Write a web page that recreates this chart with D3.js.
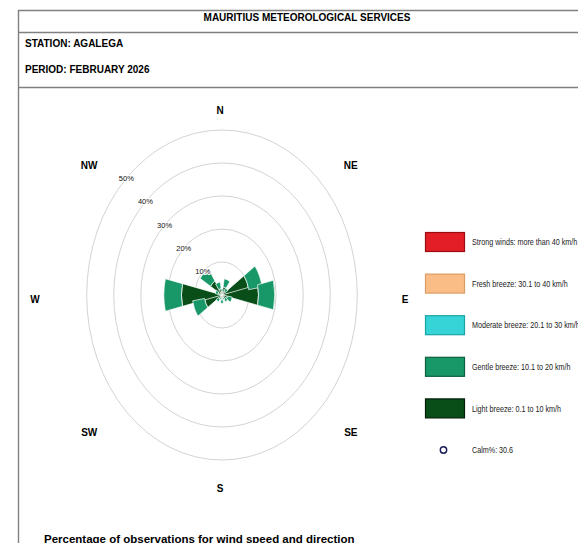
<!DOCTYPE html>
<html>
<head>
<meta charset="utf-8">
<script src="https://cdn.jsdelivr.net/npm/d3@7"></script>
<style>
  body { margin: 0; background: #fff; }
  svg { display: block; font-family: "Liberation Sans", Arial, sans-serif; }
</style>
</head>
<body>
<script>
// wind rose data, % of observations per direction and speed class
var directions = ["N","NNE","NE","ENE","E","ESE","SE","SSE","S","SSW","SW","WSW","W","WNW","NW","NNW"];
var lightBreeze    = [1.0, 2.5, 1.5, 10.0, 13.5, 2.0, 1.5, 1.0, 1.5, 1.0, 1.5, 6.5, 15.0, 1.5, 5.0, 2.0];
var gentleBreeze   = [0.8, 2.5, 1.0, 5.0, 6.0, 1.8, 1.0, 0.5, 1.0, 0.5, 1.0, 4.5, 6.5, 1.0, 4.5, 2.0];
var moderateBreeze = [0, 0, 0, 0, 0, 0, 0, 0, 0, 0, 0, 0, 0, 0, 0, 0];
var freshBreeze    = [0, 0, 0, 0, 0, 0, 0, 0, 0, 0, 0, 0, 0, 0, 0, 0];
var strongWinds    = [0, 0, 0, 0, 0, 0, 0, 0, 0, 0, 0, 0, 0, 0, 0, 0];
var ringTicks = [10, 20, 30, 40, 50];
var compass = ["N","NE","E","SE","S","SW","W","NW"];
var legendLabels = [
  "Strong winds: more than 40 km/h",
  "Fresh breeze: 30.1 to 40 km/h",
  "Moderate breeze: 20.1 to 30 km/h",
  "Gentle breeze: 10.1 to 20 km/h",
  "Light breeze: 0.1 to 10 km/h"
];
var calmPercent = 30.6;

var width = 578, height = 543;
var cx = 222, cy = 295, squash = 0.82;

var classes = [
  {key: "light",    fill: "#094d18", stroke: "#021f08"},
  {key: "gentle",   fill: "#189868", stroke: "#0c5e40"},
  {key: "moderate", fill: "#36d4d6", stroke: "#1aa3a6"},
  {key: "fresh",    fill: "#fbbd86", stroke: "#dc9c66"},
  {key: "strong",   fill: "#e41e26", stroke: "#9a0d12"}
];

var rows = directions.map(function(d, i) {
  return {dir: d, light: lightBreeze[i], gentle: gentleBreeze[i],
    moderate: moderateBreeze[i], fresh: freshBreeze[i], strong: strongWinds[i]};
});

var svg = d3.select("body").append("svg")
  .attr("width", width)
  .attr("height", height);

// frame
var frame = svg.append("g")
  .attr("stroke", "#808080")
  .attr("stroke-width", 1.4);
frame.append("line").attr("x1", 18).attr("x2", width).attr("y1", 10.5).attr("y2", 10.5);
frame.append("line").attr("x1", 18).attr("x2", width).attr("y1", 32.5).attr("y2", 32.5);
frame.append("line").attr("x1", 18).attr("x2", width).attr("y1", 87.5).attr("y2", 87.5);
frame.append("line").attr("x1", 18.5).attr("x2", 18.5).attr("y1", 10).attr("y2", height);

svg.append("text")
  .attr("x", 307).attr("y", 21)
  .attr("text-anchor", "middle")
  .attr("font-size", 10).attr("font-weight", "bold")
  .text("MAURITIUS METEOROLOGICAL SERVICES");
svg.append("text")
  .attr("x", 25).attr("y", 47)
  .attr("font-size", 10).attr("font-weight", "bold")
  .text("STATION: AGALEGA");
svg.append("text")
  .attr("x", 25).attr("y", 73)
  .attr("font-size", 10).attr("font-weight", "bold")
  .text("PERIOD: FEBRUARY 2026");

// scales
var r = d3.scaleLinear().domain([0, 50]).range([0, 165]);
var angle = d3.scaleBand()
  .domain(directions)
  .range([-Math.PI / 16, 2 * Math.PI - Math.PI / 16])
  .padding(0);
var spread = 2 * Math.PI / 180; // petals drawn a little wider than their sector

var rose = svg.append("g")
  .attr("transform", "translate(" + cx + "," + cy + ") scale(" + squash + ",1)");

rose.selectAll("circle.ring")
  .data(ringTicks)
  .enter()
  .append("circle")
  .attr("class", "ring")
  .attr("r", function(d) { return r(d); })
  .attr("fill", "none")
  .attr("stroke", "#c8c8c8")
  .attr("stroke-width", 0.8)
  .attr("vector-effect", "non-scaling-stroke");

var stack = d3.stack().keys(classes.map(function(c) { return c.key; }));
var series = stack(rows);

var arc = d3.arc()
  .innerRadius(function(d) { return r(d[0]); })
  .outerRadius(function(d) { return r(d[1]); })
  .startAngle(function(d) { return angle(d.data.dir) - spread; })
  .endAngle(function(d) { return angle(d.data.dir) + angle.bandwidth() + spread; });

rose.selectAll("g.layer")
  .data(series)
  .enter()
  .append("g")
  .attr("class", "layer")
  .attr("fill", function(s, i) { return classes[i].fill; })
  .selectAll("path")
  .data(function(s) { return s.filter(function(d) { return d[1] > d[0]; }); })
  .enter()
  .append("path")
  .attr("d", arc)
  .attr("stroke", "#ffffff")
  .attr("stroke-width", 0.7)
  .attr("vector-effect", "non-scaling-stroke");

// ring labels along the NW line
svg.selectAll("text.ringlabel")
  .data(ringTicks)
  .enter()
  .append("text")
  .attr("class", "ringlabel")
  .attr("x", function(d) { return cx - squash * r(d) * Math.SQRT1_2; })
  .attr("y", function(d) { return cy - r(d) * Math.SQRT1_2; })
  .attr("dy", "0.35em")
  .attr("text-anchor", "middle")
  .attr("font-size", 7.5)
  .attr("fill", "#111")
  .attr("stroke", "#fff")
  .attr("stroke-width", 2)
  .attr("paint-order", "stroke")
  .text(function(d) { return d + "%"; });

// compass labels
var labelCx = 220, labelCy = 299, labelRx = 185, labelRy = 189;
svg.selectAll("text.compass")
  .data(compass)
  .enter()
  .append("text")
  .attr("class", "compass")
  .attr("x", function(d, i) { return labelCx + labelRx * Math.sin(i * Math.PI / 4); })
  .attr("y", function(d, i) { return labelCy - labelRy * Math.cos(i * Math.PI / 4); })
  .attr("dy", "0.35em")
  .attr("text-anchor", "middle")
  .attr("font-size", 10)
  .attr("font-weight", "bold")
  .text(function(d) { return d; });

// legend
var legendClasses = classes.slice().reverse();
var legendY = d3.scalePoint().domain(d3.range(6)).range([242, 450]);
var legend = svg.append("g");

legend.selectAll("rect")
  .data(legendClasses)
  .enter()
  .append("rect")
  .attr("x", 425.5)
  .attr("y", function(d, i) { return legendY(i) - 9.5; })
  .attr("width", 39)
  .attr("height", 19)
  .attr("fill", function(d) { return d.fill; })
  .attr("stroke", function(d) { return d.stroke; })
  .attr("stroke-width", 1.2);

var textK = 0.8;
var legendText = legend.append("g")
  .attr("transform", "scale(" + textK + ",1)");
legendText.selectAll("text")
  .data(legendLabels.concat(["Calm%: " + calmPercent]))
  .enter()
  .append("text")
  .attr("x", 472 / textK)
  .attr("y", function(d, i) { return legendY(i); })
  .attr("dy", "0.35em")
  .attr("font-size", 9)
  .attr("fill", "#222")
  .text(function(d) { return d; });

legend.append("circle")
  .attr("cx", 443.5)
  .attr("cy", legendY(5))
  .attr("r", 3.2)
  .attr("fill", "#fff")
  .attr("stroke", "#1c1c5a")
  .attr("stroke-width", 1.4);

svg.append("text")
  .attr("x", 44).attr("y", 543)
  .attr("font-size", 11.5).attr("font-weight", "bold")
  .text("Percentage of observations for wind speed and direction");
</script>
</body>
</html>
